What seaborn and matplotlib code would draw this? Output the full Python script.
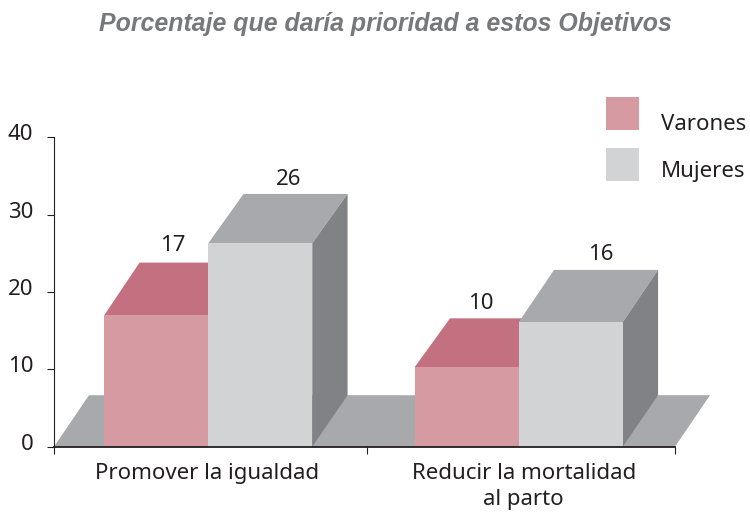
import matplotlib
matplotlib.use("Agg")
import matplotlib.pyplot as plt
from matplotlib.patches import Rectangle
from matplotlib.transforms import ScaledTranslation
import pandas as pd
import seaborn as sns

title = "Porcentaje que daría prioridad a estos Objetivos"
categories = ["Promover la igualdad", "Reducir la mortalidad\nal parto"]
varones = [17.0, 10.3]
mujeres = [26.3, 16.1]
series_names = ["Varones", "Mujeres"]
y_ticks = [0, 10, 20, 30, 40]

W, H = 750, 516
INK = "#231f20"
front = {"Varones": "#d69aa2", "Mujeres": "#d1d3d4"}
top_col = {"Varones": "#c37180", "Mujeres": "#a7a9ac"}
SIDE = "#808285"
FLOOR = "#a7a9ac"
TITLE_COL = "#77787b"
FONT = "Noto Sans"
FS = 16

sns.set_theme(style="white")
plt.rcParams["font.family"] = FONT
plt.rcParams["text.color"] = INK

df = pd.DataFrame({
    "cat": categories * 2,
    "serie": [series_names[0]] * 2 + [series_names[1]] * 2,
    "valor": varones + mujeres,
})

fig = plt.figure(figsize=(W / 100, H / 100), dpi=100)
L, R, T, B = 54, 675, 137.3, 446.7
ax = fig.add_axes([L / W, 1 - B / H, (R - L) / W, (B - T) / H])

sns.barplot(data=df, x="cat", y="valor", hue="serie", palette=front,
            hue_order=series_names, order=categories, width=0.67, gap=0,
            saturation=1, linewidth=0, legend=False, ax=ax)
ax.set_xlim(-0.5, 1.5)
ax.set_ylim(0, 40)
ax.set_xlabel("")
ax.set_ylabel("")

px_x = 2.0 / (R - L)        # data units per pixel in x
px_y = 40.0 / (B - T)       # data units per pixel in y
dx = 35.3 * px_x
depth_px = {"Varones": [52.6, 48.7], "Mujeres": [49.3, 52.3]}
fx, fy = 35.0 * px_x, 51.5 * px_y

ax.fill([-0.5, 1.5, 1.5 + fx, -0.5 + fx], [0, 0, fy, fy], color=FLOOR,
        lw=0, zorder=0.5, clip_on=False)

z_top = {"Varones": 1.0, "Mujeres": 1.5}
for name, cont in zip(series_names, ax.containers):
    for bar, dp in zip(cont, depth_px[name]):
        dy = dp * px_y
        bar.set_zorder(2)
        bar.set_x(bar.get_x() - px_x)
        x0, x1, h = bar.get_x(), bar.get_x() + bar.get_width(), bar.get_height()
        ax.fill([x0, x1, x1 + dx, x0 + dx], [h, h, h + dy, h + dy],
                color=top_col[name], lw=0, zorder=z_top[name], clip_on=False)
        if name == "Mujeres":
            ax.fill([x1, x1 + dx, x1 + dx, x1], [0, fy, h + dy, h],
                    color=SIDE, lw=0, zorder=z_top[name], clip_on=False)

# value labels
offsets = {"Varones": [(16.5, 72), (14, 65.7)], "Mujeres": [(28.5, 66), (29.5, 70)]}
for name, cont in zip(series_names, ax.containers):
    for bar, (ox, oy) in zip(cont, offsets[name]):
        ax.annotate(f"{bar.get_height():.0f}",
                    (bar.get_x() + bar.get_width() / 2, bar.get_height()),
                    xytext=(ox * 0.72, oy * 0.72), textcoords="offset points",
                    ha="center", va="center_baseline", fontsize=FS, color=INK,
                    annotation_clip=False)

# axes
for s in ("top", "right"):
    ax.spines[s].set_visible(False)
ax.spines["left"].set_linewidth(0.8)
ax.spines["left"].set_color(INK)
ax.spines["bottom"].set_linewidth(1.3)
ax.spines["bottom"].set_color(INK)
ax.spines["left"].set_zorder(3)
ax.spines["bottom"].set_zorder(3)

ax.set_yticks(y_ticks)
ax.set_yticklabels([str(v) for v in y_ticks])
ax.tick_params(axis="y", which="major", left=True, length=5, width=0.8, color=INK,
               pad=10, labelsize=FS, labelcolor=INK)
up = ScaledTranslation(0, 5 / 100, fig.dpi_scale_trans)
for lab in ax.get_yticklabels():
    lab.set_transform(lab.get_transform() + up)

ax.set_xticks([-0.5, 0.5 + 2.2 * px_x, 1.5])
ax.set_xticklabels(["", "", ""])
ax.set_xticks([0, 1], labels=categories, minor=True)
ax.tick_params(axis="x", which="major", bottom=True, length=5, width=0.8, color=INK)
ax.tick_params(axis="x", which="minor", bottom=False, length=0, pad=12,
               labelsize=FS, labelcolor=INK)
for lab, shift in zip(ax.get_xticklabels(minor=True), (-2, 4)):
    lab.set_transform(lab.get_transform()
                      + ScaledTranslation(shift / 100, 0, fig.dpi_scale_trans))
    lab.set_linespacing(1.3)

# legend
swatches = [(606, 97, 33, 33), (606, 148, 33, 33)]
label_pos = [(661, 122), (661, 169)]
for name, (sx, sy, sw, sh), (tx, ty) in zip(series_names, swatches, label_pos):
    fig.add_artist(Rectangle((sx / W, 1 - (sy + sh) / H), sw / W, sh / H,
                             transform=fig.transFigure, facecolor=front[name], lw=0))
    fig.text(tx / W, 1 - ty / H, name, ha="left", va="center_baseline", fontsize=FS, color=INK)

fig.text(385 / W, 1 - 22 / H, title, ha="center", va="center_baseline", fontsize=17.9,
         family="Liberation Sans", fontweight="bold", fontstyle="italic", color=TITLE_COL)

fig.savefig("out.png", dpi=100, facecolor="white")
